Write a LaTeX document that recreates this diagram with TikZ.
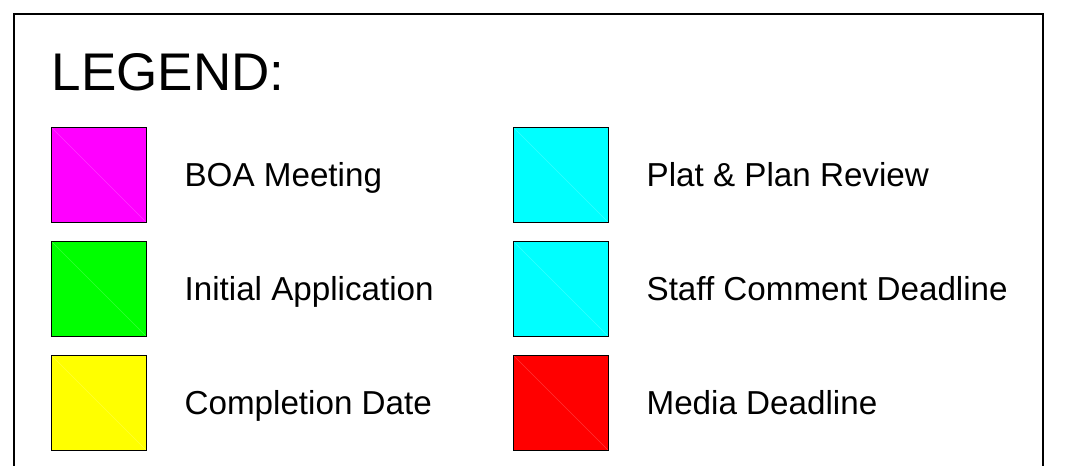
\documentclass[tikz,border=0pt]{standalone}
\usepackage{fontspec}
\setmainfont[Ligatures=NoCommon]{Liberation Sans}
\usepackage{tikz}
\usetikzlibrary{positioning}

\begin{document}
\begin{tikzpicture}[x=1pt, y=-1pt,
	swatch/.style={draw=black, line width=1.8pt, minimum size=95pt, inner sep=0pt,
		path picture={\draw[white, opacity=0.2, line width=0.5pt] (path picture bounding box.north west) -- (path picture bounding box.south east);}},
	entry/.style={inner sep=0pt, anchor=base west, yshift=-11.5pt, font=\fontsize{33.2}{38}\selectfont},]
\useasboundingbox (0,0) rectangle (1069,466);
\draw[line width=2pt] (13.5,470) -- (13.5,14) -- (1043,14) -- (1043,470);
\node[inner sep=0pt, anchor=base west, font=\fontsize{53}{60}\selectfont] (title) at (51.5,90) {LEGEND:};
% left column
\node[swatch, fill={rgb,255:red,255;green,0;blue,255}] (boa) at (99,175) {};
\node[swatch, fill={rgb,255:red,0;green,255;blue,0}] (initial) at (99,289) {};
\node[swatch, fill={rgb,255:red,255;green,255;blue,0}] (completion) at (99,403) {};
\node[right=37pt of boa.east, entry] (boalabel) {BOA Meeting};
\node[right=37pt of initial.east, entry] (initiallabel) {Initial Application};
\node[right=37pt of completion.east, entry] (completionlabel) {Completion Date};
% right column
\node[swatch, fill={rgb,255:red,0;green,255;blue,255}] (plat) at (561,175) {};
\node[swatch, fill={rgb,255:red,0;green,255;blue,255}] (staff) at (561,289) {};
\node[swatch, fill={rgb,255:red,255;green,0;blue,0}] (media) at (561,403) {};
\node[right=37pt of plat.east, entry] (platlabel) {Plat \& Plan Review};
\node[right=37pt of staff.east, entry] (stafflabel) {Staff Comment Deadline};
\node[right=37pt of media.east, entry] (medialabel) {Media Deadline};
\end{tikzpicture}
\end{document}
